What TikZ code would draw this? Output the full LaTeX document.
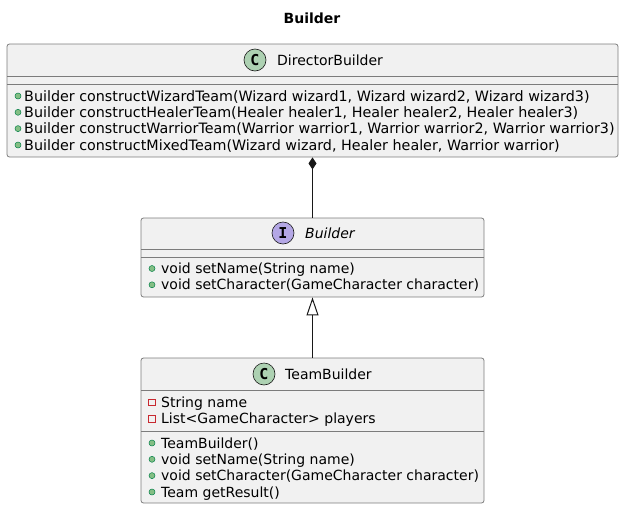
\documentclass[tikz,border=0pt]{standalone}
\usepackage{fontspec}
\setmainfont{DejaVu Sans}
\newfontfamily\badgefont{DejaVu Sans Mono}
\usetikzlibrary{arrows.meta}
\definecolor{boxfill}{HTML}{F1F1F1}
\definecolor{boxline}{HTML}{181818}
\definecolor{edgegray}{HTML}{7C7C7C}
\definecolor{classicon}{HTML}{ADD1B2}
\definecolor{ifaceicon}{HTML}{B4A7E5}
\definecolor{pubfill}{HTML}{84BE84}
\definecolor{publine}{HTML}{038048}
\definecolor{privline}{HTML}{C82930}

\begin{document}
\begin{tikzpicture}[x=1pt,y=-1pt,
  every node/.style={font=\fontsize{14}{16}\selectfont, inner sep=0pt},
  umlbox/.style={rectangle, draw=edgegray, fill=boxfill, line width=0.8pt, rounded corners=2.5pt},
  sepline/.style={draw=edgegray, line width=0.8pt},
  member/.style={anchor=base west},
  widemember/.style={anchor=base west, font=\fontsize{14.3}{16}\selectfont},
  pub/.style={circle, draw=publine, fill=pubfill, line width=0.5pt, minimum size=6pt},
  priv/.style={rectangle, draw=privline, line width=0.9pt, minimum size=6.5pt},
  badge/.style={circle, draw=boxline, line width=0.6pt, minimum size=22pt, font=\badgefont\bfseries\fontsize{15}{15}\selectfont}]
  \useasboundingbox (0,0) rectangle (624,509);

  \node[font=\bfseries\fontsize{14}{16}\selectfont] (title) at (312,18) {Builder};

  % DirectorBuilder
  \node[umlbox, minimum width=611pt, minimum height=113pt] (director) at (312.5,100.5) {};
  \draw[sepline] (7,76) -- (618,76);
  \draw[sepline] (7,84) -- (618,84);
  \node[badge, fill=classicon] (dicon) at (255,60) {C};
  \node[member] (dname) at (277,65) {DirectorBuilder};
  \node[pub] (dp1) at (18,96) {};
  \node[widemember] (dm1) at (24,101) {Builder constructWizardTeam(Wizard wizard1, Wizard wizard2, Wizard wizard3)};
  \node[pub] (dp2) at (18,112.3) {};
  \node[widemember] (dm2) at (24,117.3) {Builder constructHealerTeam(Healer healer1, Healer healer2, Healer healer3)};
  \node[pub] (dp3) at (18,128.6) {};
  \node[widemember] (dm3) at (24,133.6) {Builder constructWarriorTeam(Warrior warrior1, Warrior warrior2, Warrior warrior3)};
  \node[pub] (dp4) at (18,145) {};
  \node[widemember] (dm4) at (24,150) {Builder constructMixedTeam(Wizard wizard, Healer healer, Warrior warrior)};

  % Builder
  \node[umlbox, minimum width=343pt, minimum height=79pt] (builder) at (312.5,257.5) {};
  \draw[sepline] (141,249) -- (484,249);
  \draw[sepline] (141,257) -- (484,257);
  \node[badge, fill=ifaceicon] (bicon) at (283,233) {I};
  \node[member, font=\itshape\fontsize{14}{16}\selectfont] (bname) at (305,238) {Builder};
  \node[pub] (bp1) at (152,268.5) {};
  \node[member] (bm1) at (161,273.5) {void setName(String name)};
  \node[pub] (bp2) at (152,284.8) {};
  \node[member] (bm2) at (161,289.8) {void setCharacter(GameCharacter character)};

  % TeamBuilder
  \node[umlbox, minimum width=343pt, minimum height=145pt] (teamb) at (312.5,430.5) {};
  \draw[sepline] (141,390) -- (484,390);
  \draw[sepline] (141,431) -- (484,431);
  \node[badge, fill=classicon] (ticon) at (264,374) {C};
  \node[member] (tname) at (285,379) {TeamBuilder};
  \node[priv] (tq1) at (152,402.5) {};
  \node[member] (ta1) at (161,407) {String name};
  \node[priv] (tq2) at (152,418.8) {};
  \node[member] (ta2) at (161,423.3) {List<GameCharacter> players};
  \node[pub] (tp1) at (152,443) {};
  \node[member] (tm1) at (161,448) {TeamBuilder()};
  \node[pub] (tp2) at (152,459.3) {};
  \node[member] (tm2) at (161,464.3) {void setName(String name)};
  \node[pub] (tp3) at (152,475.6) {};
  \node[member] (tm3) at (161,480.6) {void setCharacter(GameCharacter character)};
  \node[pub] (tp4) at (152,492) {};
  \node[member] (tm4) at (161,497) {Team getResult()};

  \draw[draw=boxline, line width=1pt, {Diamond[length=12pt,width=8pt]}-] (director.south) -- (builder.north);
  \draw[draw=boxline, line width=1pt, -{Triangle[open, length=18pt, width=12pt, fill=white]}] (teamb.north) -- (builder.south);
\end{tikzpicture}
\end{document}
